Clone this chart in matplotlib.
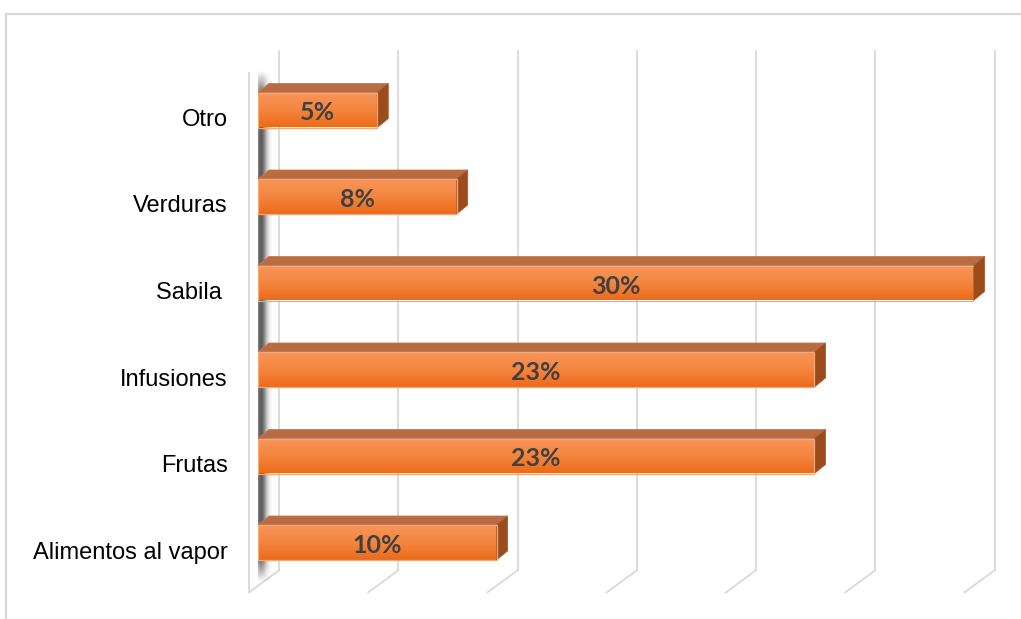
import numpy as np
import matplotlib.pyplot as plt
from matplotlib.patches import Polygon, Rectangle
from matplotlib.colors import LinearSegmentedColormap
from matplotlib.transforms import ScaledTranslation

categories = ['Alimentos al vapor', 'Frutas', 'Infusiones', 'Sabila ', 'Verduras', 'Otro']
values = [10.0, 23.33, 23.33, 30.0, 8.33, 5.0]
ticks = [0, 5, 10, 15, 20, 25, 30]

W, H = 1021, 619
fig = plt.figure(figsize=(W / 100, H / 100), dpi=100)
ax = fig.add_axes([258 / W, 1 - 585.75 / H, (973.5 - 258) / W, 519 / H])
ax.set_xlim(0, 30)
ax.set_ylim(-0.5, 5.5)
ax.axis('off')

# pixels per data unit, used to turn 3d depth offsets into data offsets
ppx = (973.5 - 258) / 30
ppy = 519 / 6


def off(px, py):
    return px / ppx, py / ppy


grid_col = '#d9d9d9'
bx, by = off(21, 15.4)   # back wall plane
fx, fy = off(-9, -6.6)   # front edge of the floor
dx, dy = off(11, 9)      # bar depth

# outer chart border
fig.add_artist(Rectangle((6 / W, -0.5), 2, 1 - 14 / H + 0.5, transform=fig.transFigure,
                         fill=False, ec=grid_col, lw=1.6))

# gridlines on the back wall and their floor slants
for t in ticks:
    ax.plot([t + bx, t + bx], [-0.5 + by, 5.5 + by], color=grid_col, lw=1.3, zorder=1,
            clip_on=False)
    ax.plot([t + bx, t + fx], [-0.5 + by, -0.5 + fy], color=grid_col, lw=1.3, zorder=1,
            clip_on=False)
# front edge of the left wall
ax.plot([fx, fx], [-0.5 + fy, 5.5 + fy], color=grid_col, lw=1.3, zorder=1, clip_on=False)

# soft dark shade along the left wall
nx, ny = 80, 300
xs = np.linspace(0, 1, nx)
ys = np.linspace(0, 1, ny)
prof_x = np.exp(-((xs - 0.55) / 0.24) ** 2)
prof_y = np.clip(np.minimum(ys, 1 - ys) / 0.05, 0, 1)
alpha = 0.85 * prof_y[:, None] * prof_x[None, :]
shade = np.zeros((ny, nx, 4))
shade[..., :3] = 0.25
shade[..., 3] = alpha
ax.imshow(shade, extent=[-0.4, 0.55, -0.47, 5.45], aspect='auto', zorder=2,
          interpolation='bilinear')

# bars: gradient front face, top face and right side face
bh = 35 / ppy
front_cmap = LinearSegmentedColormap.from_list('front', ['#ec6a1a', '#f4863f', '#f89459'])
grad = np.linspace(0, 1, 100)[:, None]
bars = ax.barh(range(len(values)), values, height=bh, color='none', ec='#f5a877', lw=0.9,
               zorder=5)
lab_tr = ax.transData + ScaledTranslation(0, -3 / 100, fig.dpi_scale_trans)
for i, (bar, v) in enumerate(zip(bars, values)):
    lo, hi = i - bh / 2, i + bh / 2
    im = ax.imshow(grad, cmap=front_cmap, extent=[0, v, lo, hi], aspect='auto',
                   origin='lower', zorder=4, interpolation='bilinear')
    im.set_clip_path(bar)
    ax.add_patch(Polygon([(0, hi), (v, hi), (v + dx, hi + dy), (dx, hi + dy)],
                         closed=True, fc='#b96b41', ec='#c47a50', lw=0.6, zorder=4,
                         clip_on=False))
    ax.add_patch(Polygon([(v, lo), (v, hi), (v + dx, hi + dy), (v + dx, lo + dy)],
                         closed=True, fc='#9c4c1c', ec='#a85a2a', lw=0.6, zorder=4,
                         clip_on=False))
    ax.text(v / 2, i, f'{v:.0f}%', ha='center', va='center', fontsize=18,
            fontweight='bold', color='#404040', family='Lato', zorder=6,
            transform=lab_tr)

label_tr = ax.transData + ScaledTranslation(-30 / 100, -10 / 100, fig.dpi_scale_trans)
for i, name in enumerate(categories):
    ax.text(0, i, name, transform=label_tr, ha='right', va='center', fontsize=17,
            family='Liberation Sans', color='#000000')

ax.set_xlim(0, 30)
ax.set_ylim(-0.5, 5.5)
fig.savefig('out.png', dpi=100)
